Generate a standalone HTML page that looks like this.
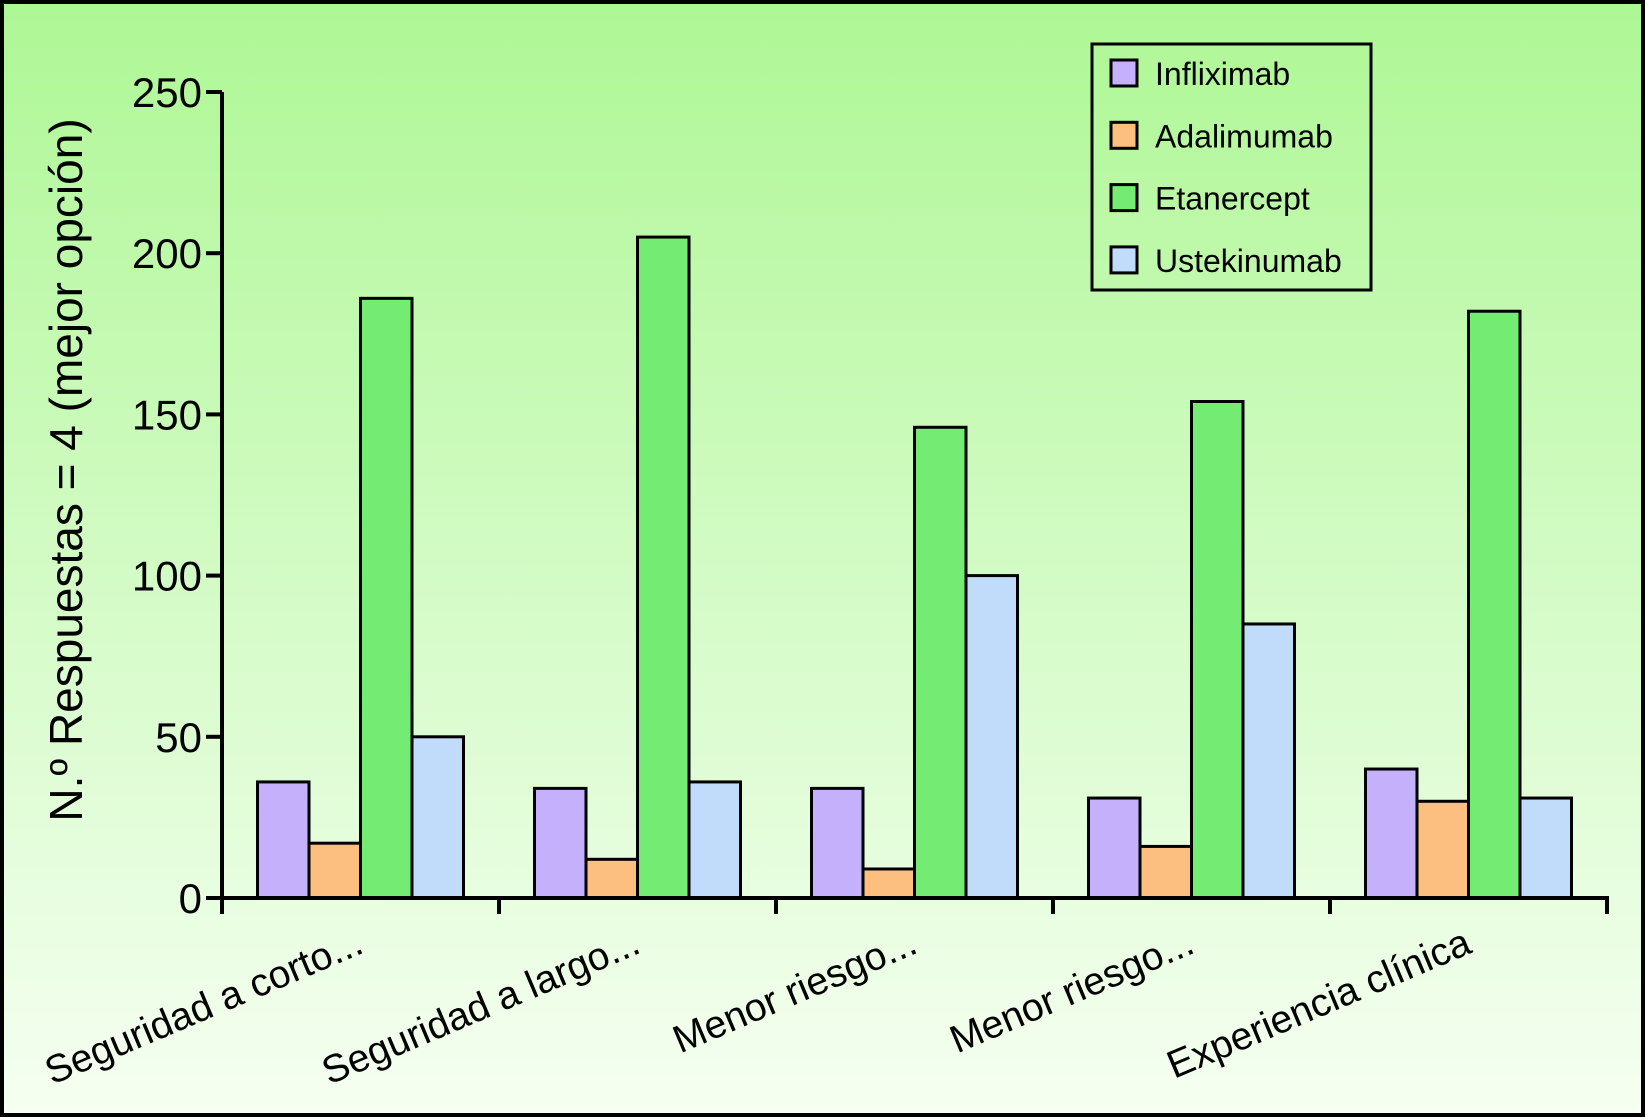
<!DOCTYPE html>
<html><head><meta charset="utf-8"><style>
html,body{margin:0;padding:0;}
body{width:1645px;height:1117px;overflow:hidden;}
svg{display:block;font-family:"Liberation Sans",sans-serif;}
</style></head><body>
<svg id="chart" width="1645" height="1117">
<defs><linearGradient id="bg" x1="0" y1="0" x2="0" y2="1">
<stop offset="0" stop-color="#aef795"/><stop offset="0.5" stop-color="#d2fbc4"/><stop offset="1" stop-color="#f6fff2"/></linearGradient></defs>
<rect x="2" y="2" width="1641" height="1113" fill="url(#bg)" stroke="#000" stroke-width="4"/>
<g id="bars"></g>
<g id="axes"></g>
<text transform="translate(82,470) rotate(-90)" text-anchor="middle" font-size="46">N.º Respuestas = 4 (mejor opción)</text>
<g>
<rect x="1092" y="44" width="279" height="246" fill="none" stroke="#000" stroke-width="3"/>
<g id="legend"></g>
</g>
</svg>
<script>
const categories=["Seguridad a corto...","Seguridad a largo...","Menor riesgo...","Menor riesgo...","Experiencia clínica"];
const seriesNames=["Infliximab","Adalimumab","Etanercept","Ustekinumab"];
const infliximab=[36,34,34,31,40];
const adalimumab=[17,12,9,16,30];
const etanercept=[186,205,146,154,182];
const ustekinumab=[50,36,100,85,31];
const yTicks=[0,50,100,150,200,250];
const colors=["#c4b0fb","#fdbf80","#74ec74","#c1dcfb"];
const series=[infliximab,adalimumab,etanercept,ustekinumab];
const NS="http://www.w3.org/2000/svg";
const x0=222,x1=1607,y0=898,yTop=92,yMax=250;
const gw=(x1-x0)/categories.length,bw=51.5,pad=(gw-4*bw)/2;
function y(v){return y0-(v/yMax)*(y0-yTop);}
function mk(t,a,p){const e=document.createElementNS(NS,t);for(const k in a)e.setAttribute(k,a[k]);p.appendChild(e);return e;}
const bars=document.getElementById('bars');
series.forEach((s,si)=>{s.forEach((v,ci)=>{
const r=mk('rect',{x:x0+ci*gw+pad+si*bw,y:y(v),width:bw,height:y0-y(v),fill:colors[si],stroke:'#000','stroke-width':3},bars);


});});
const ax=document.getElementById('axes');
const ya=mk('line',{x1:x0,y1:yTop,x2:x0,y2:y0,stroke:'#000','stroke-width':4},ax);


const xa=mk('line',{x1:x0-2,y1:y0,x2:x1+2,y2:y0,stroke:'#000','stroke-width':4},ax);


yTicks.forEach(t=>{
mk('line',{x1:x0-16,y1:y(t),x2:x0,y2:y(t),stroke:'#000','stroke-width':4},ax);
const tx=mk('text',{x:x0-20,y:y(t)+15,'text-anchor':'end','font-size':42},ax);
tx.textContent=t;


});
for(let i=0;i<=categories.length;i++){mk('line',{x1:x0+i*gw,y1:y0,x2:x0+i*gw,y2:y0+16,stroke:'#000','stroke-width':4},ax);}
categories.forEach((c,i)=>{
const cx=x0+(i+0.5)*gw+5;
const tx=mk('text',{x:cx,y:952,'text-anchor':'end','font-size':39,transform:`rotate(-23 ${cx} 952)`},ax);
tx.textContent=c;


});
const lg=document.getElementById('legend');
seriesNames.forEach((n,i)=>{
const cy=73+i*62.3;
const r=mk('rect',{x:1111,y:cy-13,width:26,height:26,fill:colors[i],stroke:'#000','stroke-width':3},lg);


const t=mk('text',{x:1155,y:cy+12,'font-size':32},lg);
t.textContent=n;


});
</script>
</body></html>
